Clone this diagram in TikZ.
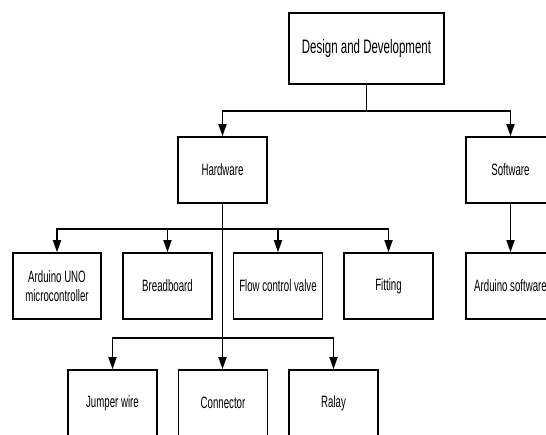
\documentclass[tikz,border=0pt]{standalone}
\usepackage{fontspec}
\setmainfont{Liberation Sans}[FakeStretch=0.59]
\usetikzlibrary{arrows.meta}

\tikzset{
    box/.style={draw, line width=1.7pt, minimum width=89pt, minimum height=66pt,
        inner sep=0pt, align=center, font=\fontsize{16.4}{19}\selectfont},
    arr/.style={line width=1.7pt, -{Triangle[length=12pt,width=8pt]}}
}

\begin{document}
\begin{tikzpicture}[x=1pt,y=1pt]
    \useasboundingbox (0,0) rectangle (546,-434);
    \clip (0,0) rectangle (546,-434);
    %\draw[very thin,color=gray] (0,0) grid[step=20] (546,-434);
    \node [box, minimum width=155pt, minimum height=71pt, font=\fontsize{19.5}{22}\selectfont] (design) at (366.5,-48.5) {Design and Development};
    \node [box] (hw) at (222.5,-170) {Hardware};
    \node [box] (sw) at (510.5,-170) {Software};

    \node [box, minimum width=88pt] (ard) at (57,-286) {Arduino UNO\\microcontroller};
    \node [box] (bread) at (167.5,-286) {Breadboard};
    \node [box] (flow) at (278,-286) {Flow control valve};
    \node [box] (fit) at (388.5,-286) {Fitting};
    \node [box] (ardsw) at (510.5,-286) {Arduino software};

    \node [box] (jump) at (112.5,-403) {Jumper wire};
    \node [box] (conn) at (223,-403) {Connector};
    \node [box] (relay) at (333.5,-403) {Ralay};

    \path (design.south) ++(0,-26) coordinate (topbar);
    \path (hw.south) ++(0,-25) coordinate (hwbar);
    \path (hw.south) ++(0,-134) coordinate (lowbar);

    \draw [line width=1.7pt] (design.south) -- (topbar);
    \draw [arr] (topbar) -| (hw.north);
    \draw [arr] (topbar) -| (sw.north);
    \draw [arr] (sw.south) -- (ardsw.north);

    \draw [arr] (hwbar) -| (ard.north);
    \draw [arr] (hwbar) -| (bread.north);
    \draw [arr] (hwbar) -| (flow.north);
    \draw [arr] (hwbar) -| (fit.north);

    \draw [arr] (hw.south) -- (hw.south |- conn.north);
    \draw [arr] (lowbar) -| (jump.north);
    \draw [arr] (lowbar) -| (relay.north);
\end{tikzpicture}
\end{document}
